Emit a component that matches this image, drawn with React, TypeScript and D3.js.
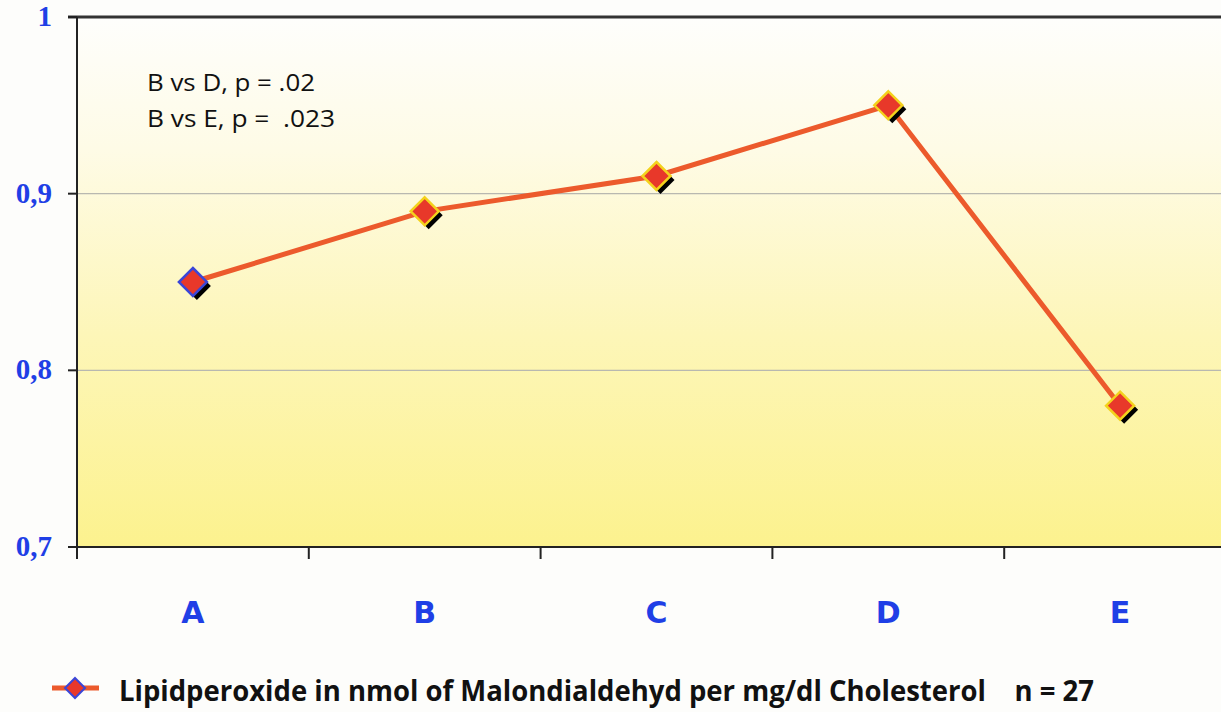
import React from "react";
import * as d3 from "d3";

const categories = ["A", "B", "C", "D", "E"];
const values = [0.85, 0.89, 0.91, 0.95, 0.78];
const yTicks = [0.7, 0.8, 0.9, 1];
const yTickLabels = ["0,7", "0,8", "0,9", "1"];
const annotations = ["B vs D, p = .02", "B vs E, p =  .023"];
const legendLabel = "Lipidperoxide in nmol of Malondialdehyd per mg/dl Cholesterol    n = 27";

const W = 1221;
const H = 712;
const left = 77;
const top = 17;
const bottom = 547;
const right = 1236;

export default function App() {
  const x = d3.scaleBand<string>().domain(categories).range([left, right]);
  const y = d3.scaleLinear().domain([0.7, 1]).range([bottom, top]);
  const cx = (c: string) => (x(c) as number) + x.bandwidth() / 2;
  const line = d3
    .line<number>()
    .x((_, i) => cx(categories[i]))
    .y((d) => y(d));
  const r = 14;
  const diamond = (px: number, py: number, s: number) =>
    `M${px},${py - s}L${px + s},${py}L${px},${py + s}L${px - s},${py}Z`;
  const blue = "#1f3fe6";
  const annLengths = [168, 188];
  return (
    <svg
      width={W}
      height={H}
      style={{ position: "absolute", left: 0, top: 0, background: "#fdfdfb" }}
    >
      <defs>
        <linearGradient id="bg" x1="0" y1="0" x2="0" y2="1">
          <stop offset="0" stopColor="#fefefc" />
          <stop offset="0.25" stopColor="#fefbe6" />
          <stop offset="0.6" stopColor="#fdf6b8" />
          <stop offset="1" stopColor="#fcf28e" />
        </linearGradient>
      </defs>
      <rect x={left} y={top} width={W - left} height={bottom - top} fill="url(#bg)" />
      {yTicks.slice(1, 3).map((t) => (
        <line key={t} x1={left} x2={W} y1={y(t)} y2={y(t)} stroke="#b8b8b0" strokeWidth={1.2} />
      ))}
      {/* top border */}
      <line x1={68} x2={W} y1={top} y2={top} stroke="#333" strokeWidth={3} />
      {/* axes */}
      <line x1={left} x2={left} y1={top} y2={bottom + 12} stroke="#222" strokeWidth={2} />
      <line x1={68} x2={W} y1={bottom} y2={bottom} stroke="#222" strokeWidth={2} />
      {yTicks.map((t) => (
        <line key={t} x1={68} x2={left} y1={y(t)} y2={y(t)} stroke="#222" strokeWidth={2} />
      ))}
      {categories.slice(1).map((c) => (
        <line key={c} x1={x(c) as number} x2={x(c) as number} y1={bottom} y2={bottom + 12} stroke="#222" strokeWidth={2} />
      ))}
      {yTicks.map((t, i) => (
        <text
          key={t}
          x={52}
          y={y(t) + 9}
          textAnchor="end"
          fontFamily="'Liberation Serif', 'DejaVu Serif', serif"
          fontWeight="bold"
          fontSize={29}
          fill={blue}
        >
          {yTickLabels[i]}
        </text>
      ))}
      {categories.map((c) => (
        <text
          key={c}
          x={cx(c)}
          y={623}
          textAnchor="middle"
          fontFamily="'DejaVu Sans', Verdana, sans-serif"
          fontWeight="bold"
          fontSize={30}
          fill={blue}
        >
          {c}
        </text>
      ))}
      {annotations.map((a, i) => (
        <text
          key={i}
          x={147}
          y={91 + i * 36}
          fontFamily="'Open Sans', 'Noto Sans', sans-serif"
          fontSize={23}
          fill="#111"
          textLength={annLengths[i]}
          lengthAdjust="spacingAndGlyphs"
          style={{ whiteSpace: "pre" }}
        >
          {a}
        </text>
      ))}
      <path d={line(values) || ""} fill="none" stroke="#ec5a2c" strokeWidth={5} />
      {values.map((v, i) => {
        const px = cx(categories[i]);
        const py = y(v);
        return (
          <g key={i}>
            <path d={diamond(px + 4, py + 4, r)} fill="#000" />
            <path
              d={diamond(px, py, r)}
              fill="#e8382a"
              stroke={i === 0 ? "#3a46d8" : "#f4d21c"}
              strokeWidth={2.5}
            />
          </g>
        );
      })}
      {/* legend */}
      <line x1={52} x2={99} y1={688} y2={688} stroke="#ec5a2c" strokeWidth={5} />
      <path d={diamond(75, 688, 10)} fill="#e8382a" stroke="#3a46d8" strokeWidth={2} />
      <text
        x={119}
        y={701}
        fontFamily="'Open Sans', 'Noto Sans', sans-serif"
        fontWeight="bold"
        fontSize={28}
        fill="#111"
        textLength={975}
        lengthAdjust="spacingAndGlyphs"
        style={{ whiteSpace: "pre" }}
      >
        {legendLabel}
      </text>
    </svg>
  );
}
